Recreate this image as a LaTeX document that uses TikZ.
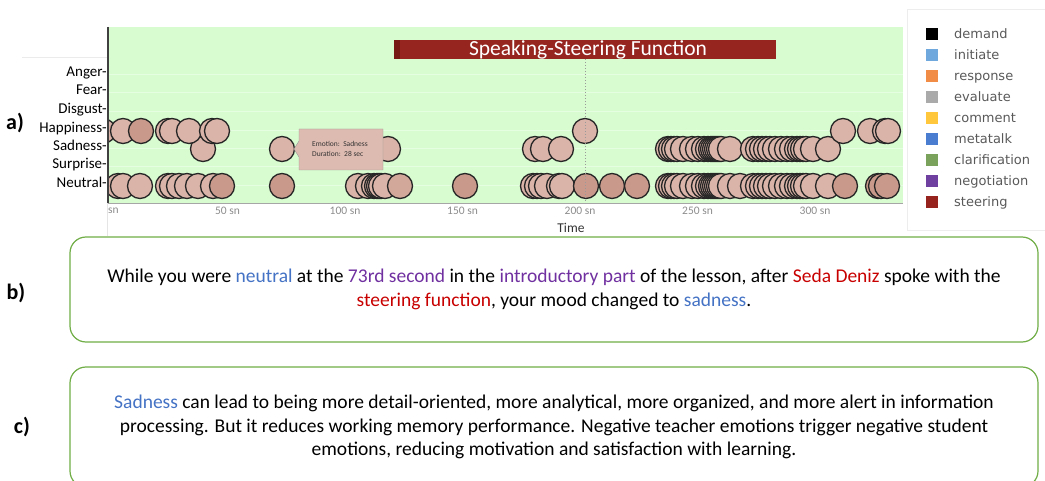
\documentclass[tikz,border=0pt]{standalone}
\usepackage{fontspec}
\setmainfont{Carlito}
\newfontfamily\legendfont{DejaVu Sans}
\definecolor{plotgreen}{RGB}{216,252,208}
\definecolor{emolight}{RGB}{218,180,168}
\definecolor{emomid}{RGB}{210,168,154}
\definecolor{emodark}{RGB}{201,154,139}
\definecolor{steerred}{RGB}{150,37,32}
\definecolor{steerdark}{RGB}{118,24,20}
\definecolor{boxgreen}{RGB}{112,173,71}
\definecolor{txtblue}{RGB}{68,114,196}
\definecolor{txtpurple}{RGB}{112,48,160}
\definecolor{txtred}{RGB}{200,0,0}
\definecolor{legdemand}{RGB}{0,0,0}
\definecolor{leginitiate}{RGB}{111,168,220}
\definecolor{legresponse}{RGB}{240,140,70}
\definecolor{legevaluate}{RGB}{170,170,170}
\definecolor{legcomment}{RGB}{255,200,60}
\definecolor{legmetatalk}{RGB}{74,124,208}
\definecolor{legclarification}{RGB}{122,162,92}
\definecolor{legnegotiation}{RGB}{112,64,160}
\definecolor{legsteering}{RGB}{150,35,30}
\tikzset{
  emo/.style={draw=black!85, line width=1.3pt},
  ylab/.style={anchor=mid east, inner sep=0pt, text=black, font=\fontsize{15}{15}\selectfont},
  tick/.style={inner sep=0pt, text=black!45, font=\fontsize{11.5}{12}\selectfont},
  legsq/.style={minimum size=12pt, inner sep=0pt},
  legtxt/.style={anchor=mid west, inner sep=0pt, text=black!65, font=\legendfont\fontsize{13}{13}\selectfont},
  tiptxt/.style={anchor=mid west, inner sep=0pt, text=black!80, font=\fontsize{7.5}{8}\selectfont},
  infobox/.style={draw=boxgreen, line width=1.2pt, rounded corners=16pt, minimum width=968pt, align=center, font=\fontsize{19.5}{23.5}\selectfont},
  partlab/.style={inner sep=0pt, font=\bfseries\fontsize{22}{22}\selectfont}
}
\begin{document}
\begin{tikzpicture}[x=1pt, y=-1pt]
\useasboundingbox (0,0) rectangle (1045,481);

\draw[black!8] (22,57) -- (108,57);
\draw[black!10] (107,203) -- (107,236);
\draw[black!7] (907,9) rectangle (1050,230);

\fill[plotgreen] (108,27) rectangle (903,203);
\foreach \y in {74,92,111,130,148,166,185}
  \draw[white, opacity=.35] (108,\y) -- (903,\y);

\begin{scope}
\clip (108,27) rectangle (903,203);
\foreach \x in {203,282,388,535,543,561,668,671,674,677,683,692,698,704,708,711,713,715,717,719,721,730,753,758,762,766,770,775,781,787,792,797,800,803,806,813,828}
  \draw[emo, fill=emolight] (\x,149) circle (12.5pt);
\foreach \x/\f in {103/emolight,123/emolight,141/emodark,168/emolight,172/emolight,189/emolight,212/emolight,217/emolight,585/emolight,843/emolight,870/emolight,885/emolight,888/emolight}
  \draw[emo, fill=\f] (\x,131) circle (12.5pt);
\foreach \x/\f in {118/emolight,123/emolight,140/emolight,168/emolight,172/emolight,179/emolight,187/emolight,198/emolight,213/emolight,222/emodark,282/emodark,358/emolight,368/emolight,374/emolight,377/emolight,379/emolight,381/emolight,385/emolight,400/emomid,465/emodark,533/emolight,537/emolight,541/emolight,547/emolight,559/emolight,562/emolight,586/emodark,612/emodark,637/emodark,668/emolight,671/emolight,674/emolight,677/emolight,683/emolight,692/emolight,698/emolight,704/emolight,708/emolight,711/emolight,713/emolight,715/emolight,717/emolight,719/emolight,721/emolight,730/emolight,740/emolight,753/emolight,758/emolight,762/emolight,766/emolight,770/emolight,775/emolight,781/emolight,787/emolight,792/emolight,797/emolight,800/emolight,803/emolight,806/emolight,813/emolight,828/emolight,845/emodark,878/emodark,881/emodark,887/emodark}
  \draw[emo, fill=\f] (\x,186) circle (12.5pt);
\end{scope}

\draw[black!75, line width=1.2pt] (108,27) -- (108,203);
\draw[black!35, line width=.8pt] (108,203) -- (903,203);

\fill[steerdark] (394,40) rectangle (400,59);
\node[fill=steerred, text=white, minimum width=376pt, minimum height=19pt, inner sep=0pt, font=\fontsize{21.5}{21.5}\selectfont] (title) at (588,49.5) {Speaking-Steering Function};
\coordinate (mark) at (585,203);
\draw[dotted, black!40, line width=1pt] (585,59) -- (mark);

\filldraw[fill=emolight!90!white, draw=black!40] (299,129) -- (383,129) -- (383,170) -- (299,170) -- (299,157) -- (294,149) -- (299,141) -- cycle;
\node[tiptxt] (tipemo) at (312,144) {Emotion:\ \ Sadness};
\node[tiptxt] (tipdur) at (312,154) {Duration:\ \ 28 sec};

\foreach \e/\y in {Anger/74,Fear/92,Disgust/111,Happiness/130,Sadness/148,Surprise/166,Neutral/185}
  \node[ylab] (\e) at (107,\y) {\e-};

\node[tick, anchor=west] (t0) at (108,211) {sn};
\foreach \t in {50,100,...,300}
  \node[tick] (t\t) at ({110+2.35*\t},211) {\t\ sn};
\node[text=black!80, inner sep=0pt, font=\fontsize{13.5}{14}\selectfont] (time) at (571,228) {Time};

\foreach \n [count=\i from 0] in {demand,initiate,response,evaluate,comment,metatalk,clarification,negotiation,steering} {
  \node[legsq, fill=leg\n] (sq\n) at (932,{34+21*\i}) {};
  \node[legtxt] (lab\n) at (954,{36+21*\i}) {\n};
}

\node[partlab] (parta) at (15,123) {a)};
\node[partlab] (partb) at (16,293) {b)};
\node[partlab] (partc) at (22,427) {c)};

\node[infobox, minimum height=105pt] (boxb) at (554,289.5) {While you were \textcolor{txtblue}{neutral} at the \textcolor{txtpurple}{73rd second} in the \textcolor{txtpurple}{introductory part} of the lesson, after \textcolor{txtred}{Seda Deniz} spoke with the\\ \textcolor{txtred}{steering function}, your mood changed to \textcolor{txtblue}{sadness}.};
\node[infobox, minimum height=120pt] (boxc) at (554,427) {\textcolor{txtblue}{Sadness} can lead to being more detail-oriented, more analytical, more organized, and more alert in information\\ processing. But it reduces working memory performance. Negative teacher emotions trigger negative student\\ emotions, reducing motivation and satisfaction with learning.};
\end{tikzpicture}
\end{document}
